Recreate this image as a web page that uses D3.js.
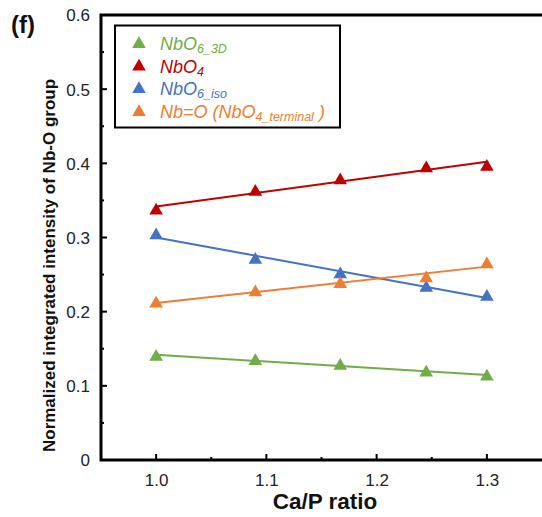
<!DOCTYPE html>
<html><head><meta charset="utf-8">
<script src="https://cdn.jsdelivr.net/npm/d3@7"></script>
<style>body{margin:0;background:#fff}svg{display:block}text{font-family:"Liberation Sans",Arial,sans-serif}</style>
</head><body><svg id="c" width="542" height="517"></svg>
<script>
const caP = [1.0, 1.09, 1.167, 1.245, 1.3];
const nbo6_3d = [0.1404, 0.1348, 0.1283, 0.1193, 0.1139];
const nbo4 = [0.3376, 0.3628, 0.3785, 0.3946, 0.3966];
const nbo6_iso = [0.3043, 0.2711, 0.2516, 0.2336, 0.2212];
const nbo_term = [0.2123, 0.2274, 0.2385, 0.2464, 0.2651];
const yTicks = [0, 0.1, 0.2, 0.3, 0.4, 0.5, 0.6];
const xTicks = [1.0, 1.1, 1.2, 1.3];

const series = [
  {key: "g", vals: nbo6_3d, color: "#70AD47"},
  {key: "r", vals: nbo4, color: "#C00000"},
  {key: "b", vals: nbo6_iso, color: "#4472C4"},
  {key: "o", vals: nbo_term, color: "#ED7D31"}
];

const svg = d3.select("#c");
const L = 101, R = 542, T = 15, B = 460;
const x = d3.scaleLinear().domain([0.95, 1.35]).range([L, R]);
const y = d3.scaleLinear().domain([0, 0.6]).range([B, T]);

// trend lines (least squares fit)
function fit(xs, ys) {
  const mx = d3.mean(xs), my = d3.mean(ys);
  let sxy = 0, sxx = 0;
  xs.forEach((v, i) => { sxy += (v - mx) * (ys[i] - my); sxx += (v - mx) ** 2; });
  const s = sxy / sxx;
  return v => my + s * (v - mx);
}
const line = d3.line().x(d => x(d[0])).y(d => y(d[1]));
series.forEach(s => {
  const f = fit(caP, s.vals);
  const ends = [caP[0], caP[caP.length - 1]];
  svg.append("path").attr("d", line(ends.map(v => [v, f(v)])))
    .attr("fill", "none").attr("stroke", s.color).attr("stroke-width", 2);
});
const tri = d3.symbol().type(d3.symbolTriangle).size(80);
series.forEach(s => {
  svg.selectAll(null).data(caP.map((v, i) => [v, s.vals[i]])).join("path")
    .attr("d", tri).attr("fill", s.color)
    .attr("transform", d => `translate(${x(d[0])},${y(d[1]) + 1})`);
});

// axes
const yAxis = d3.axisLeft(y).tickValues(yTicks).tickSize(0).tickFormat(d => d === 0 ? "0" : d3.format(".1f")(d));
const gy = svg.append("g").attr("transform", `translate(${L},0)`).call(yAxis);
gy.select(".domain").remove();
gy.selectAll("text").attr("x", -11).attr("dy", "0.35em").style("font-size", "17px").attr("fill", "#222");
// y ticks inward
svg.selectAll(null).data(d3.range(0, 0.61, 0.05)).join("line")
  .attr("x1", L).attr("x2", (d, i) => L + (i % 2 === 0 ? 6 : 3))
  .attr("y1", d => y(d)).attr("y2", d => y(d)).attr("stroke", "#000").attr("stroke-width", 2);

const xAxis = d3.axisBottom(x).tickValues(xTicks).tickSize(0).tickFormat(d3.format(".1f"));
const gx = svg.append("g").attr("transform", `translate(0,${B})`).call(xAxis);
gx.select(".domain").remove();
gx.selectAll("text").attr("y", 14).attr("dy", "0.71em").style("font-size", "17px").attr("fill", "#222");
svg.selectAll(null).data(d3.range(1.0, 1.31, 0.05)).join("line")
  .attr("y1", B).attr("y2", (d, i) => B - (i % 2 === 0 ? 6 : 3))
  .attr("x1", d => x(d)).attr("x2", d => x(d)).attr("stroke", "#000").attr("stroke-width", 2);

// frame lines
svg.append("path").attr("d", `M${L},${T}H${R}M${L},${T - 1.5}V${B + 1.5}M${L - 1.5},${B}H${R}`)
  .attr("stroke", "#000").attr("stroke-width", 3).attr("fill", "none");

// titles
svg.append("text").attr("x", 325).attr("y", 509).attr("text-anchor", "middle")
  .style("font-size", "22.5px").style("font-weight", "bold").attr("fill", "#111").text("Ca/P ratio");
svg.append("text").attr("transform", "translate(55,265.5) rotate(-90)").attr("text-anchor", "middle")
  .style("font-size", "17px").style("font-weight", "bold").attr("fill", "#111")
  .text("Normalized integrated intensity of Nb-O group");
svg.append("text").attr("x", 11).attr("y", 33).style("font-size", "24px").style("font-weight", "bold")
  .attr("fill", "#111").text("(f)");

// legend
const lg = svg.append("g");
lg.append("rect").attr("x", 115).attr("y", 25.5).attr("width", 225).attr("height", 102)
  .attr("fill", "#fff").attr("stroke", "#000").attr("stroke-width", 2);
const legendItems = [
  {color: series[0].color, parts: [["NbO", 0], ["6_3D", 1]]},
  {color: series[1].color, parts: [["NbO", 0], ["4", 1]]},
  {color: series[2].color, parts: [["NbO", 0], ["6_iso", 1]]},
  {color: series[3].color, parts: [["Nb=O (NbO", 0], ["4_terminal", 1], [" )", 0]]}
];
const rowY = [44, 66.5, 89, 112];
legendItems.forEach((it, i) => {
  lg.append("path").attr("d", tri).attr("fill", it.color)
    .attr("transform", `translate(139,${rowY[i]})`);
  const t = lg.append("text").attr("x", 160).attr("y", rowY[i] + 6)
    .style("font-style", "italic").style("font-size", "18px").attr("fill", it.color);
  let prevSub = false;
  it.parts.forEach(p => {
    t.append("tspan").text(p[0]).style("font-size", p[1] ? "12.5px" : "18px")
      .attr("dy", p[1] ? 3 : (prevSub ? -3 : 0));
    prevSub = !!p[1];
  });
});
</script></body></html>
